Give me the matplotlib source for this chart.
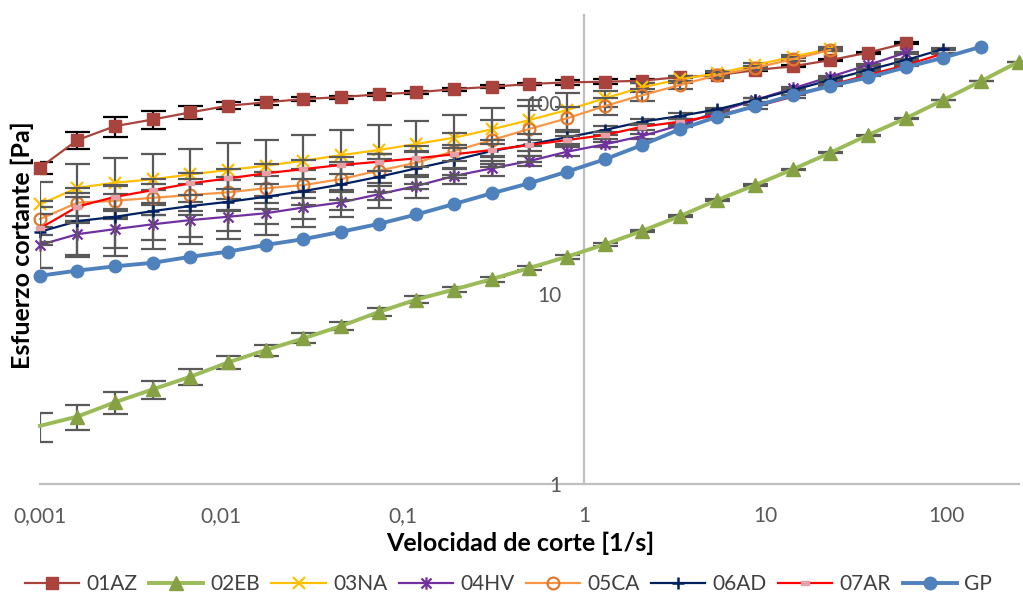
import numpy as np
import matplotlib
matplotlib.use('Agg')
from matplotlib import pyplot as plt
from matplotlib.path import Path
from matplotlib.ticker import FixedLocator, FixedFormatter, NullLocator

plt.rcParams['font.family'] = ['Lato', 'DejaVu Sans']

# shear rate [1/s]
shear_rate = [0.001, 0.00161, 0.0026, 0.00419, 0.00676, 0.0109, 0.0176, 0.0284, 0.0458,
              0.0738, 0.119, 0.192, 0.31, 0.499, 0.805, 1.3, 2.09, 3.38, 5.45, 8.78,
              14.2, 22.8, 36.8, 59.4, 95.8, 155, 250]

# shear stress [Pa] per sample
az01 = [45.8, 64, 75.7, 82, 89.4, 96.8, 100.9, 105, 107.5, 111.1, 113.8, 118.4, 121.8,
        125.9, 128.5, 129.4, 131, 137, 140, 149, 156, 168, 184, 206]
eb02 = [2.02, 2.26, 2.69, 3.14, 3.66, 4.35, 5.05, 5.82, 6.75, 8.0, 9.3, 10.5, 11.9, 13.6,
        15.6, 18.1, 21.3, 25.5, 31.0, 37.1, 44.9, 54.8, 67.9, 83.1, 103.7, 130.4, 164.8]
na03 = [29.4, 35.9, 38.2, 39.8, 42.2, 44.5, 46.9, 49.8, 53.3, 56.7, 61.0, 65.8, 72.8,
        81.4, 91.9, 105.8, 120.9, 133.2, 143.2, 158.3, 175, 193]
hv04 = [18.0, 20.5, 21.8, 23.1, 24.3, 25.3, 26.4, 28.3, 30.1, 33.2, 36.7, 41.4, 45.4,
        49.6, 55.5, 60.7, 67.1, 76.5, 90, 103.7, 119.4, 137.4, 158.3, 183.7]
ca05 = [24.6, 30.0, 30.7, 31.8, 32.9, 34.0, 35.7, 37.1, 39.9, 44.2, 48.6, 56.0, 63.9,
        73.1, 83.1, 96.4, 110, 124.3, 140.3, 153, 170, 190]
ad06 = [21.1, 24.0, 25.3, 27.1, 28.8, 30.3, 32.2, 34.5, 37.4, 41.0, 45.4, 50.2, 56.0,
        60.7, 66.1, 72.2, 79.8, 85.5, 92.7, 103.7, 117, 132, 149, 168, 192]
ar07 = [22.0, 28.6, 32.2, 34.9, 37.9, 40.2, 42.8, 45.0, 47.3, 49.2, 51.3, 53.8, 56.7,
        60.2, 63.9, 67.9, 75.1, 79.8, 86.5, 95.6, 108, 124.3, 140.3, 158, 182]
gp = [12.4, 13.2, 13.9, 14.5, 15.6, 16.6, 18.0, 19.3, 21.1, 23.2, 26.0, 29.5, 33.6, 37.9,
      43.6, 50.6, 60.2, 72.8, 84.8, 96.4, 110, 122.8, 136.4, 154, 173, 197.6]

# error bars (standard deviation, Pa)
az01_err = [3.5, 6.5, 9, 9, 7, 4, 3, 3, 2, 2, 2, 2, 2, 2, 4, 4, 3, 2, 2, 2, 2, 2, 2, 2]
eb02_err = [0.35] * 27
na03_err = [9, 12, 13, 14, 15, 17, 17, 18, 19, 20, 20, 21, 21, 22, 21, 10, 6, 5, 4, 4, 3, 3]
hv04_err = [4.4, 5, 6, 6, 6, 6, 6, 6, 5, 5, 5, 4, 4, 3, 3, 2, 2, 2, 2, 2, 2, 2, 2, 2]
ca05_err = [6, 6, 6, 6, 7, 7, 8, 8, 9, 10, 11, 14, 18, 24, 12, 10, 8, 6, 5, 4, 4, 3]
ad06_err = [7.5, 8, 8, 8, 9, 9, 9, 10, 10, 10, 10, 10, 8, 8, 6, 4, 3, 3, 2, 2, 2, 2, 2, 2, 2]
ar07_err = [4, 5, 5, 5, 5, 5, 5, 5, 5, 5, 5, 4, 4, 4, 3, 3, 3, 3, 2, 2, 2, 2, 2, 2, 2]

x_ticks = [0.001, 0.01, 0.1, 1, 10, 100]
x_tick_labels = ['0,001', '0,01', '0,1', '1', '10', '100']
y_ticks = [1, 10, 100]
y_tick_labels = ['1', '10', '100']

# excel-like marker shapes
star = Path(
    [(0, -1), (0, 1), (-0.8, -0.8), (0.8, 0.8), (-0.8, 0.8), (0.8, -0.8)],
    [Path.MOVETO, Path.LINETO, Path.MOVETO, Path.LINETO, Path.MOVETO, Path.LINETO],
)
dash = Path([(-1, -0.55), (1, -0.55), (1, 0.55), (-1, 0.55), (-1, -0.55)],
            [Path.MOVETO, Path.LINETO, Path.LINETO, Path.LINETO, Path.CLOSEPOLY])

series = [
    # label, values, errors, error colour, style
    ('01AZ', az01, az01_err, '#000000',
     dict(color='#A8443D', lw=1.6, marker='s', ms=8, mfc='#A8443D', mec='#A8443D')),
    ('02EB', eb02, eb02_err, '#595959',
     dict(color='#9BBB59', lw=2.8, marker='^', ms=10, mfc='#86A044', mec='#86A044',
          markevery=slice(1, None))),
    ('03NA', na03, na03_err, '#595959',
     dict(color='#FFC000', lw=1.6, marker='x', ms=8, mew=1.6, mec='#FFC000')),
    ('04HV', hv04, hv04_err, '#595959',
     dict(color='#7030A0', lw=1.6, marker=star, ms=9, mew=1.6, mec='#7030A0')),
    ('05CA', ca05, ca05_err, '#595959',
     dict(color='#F79646', lw=1.6, marker='o', ms=8.5, mew=1.6, mfc='none', mec='#E2792C')),
    ('06AD', ad06, ad06_err, '#595959',
     dict(color='#002060', lw=1.6, marker='+', ms=9, mew=1.8, mec='#002060')),
    ('07AR', ar07, ar07_err, '#595959',
     dict(color='#FF0000', lw=1.6, marker=dash, ms=6, mfc='#E6A1A6', mec='#E6A1A6')),
    ('GP', gp, None, None,
     dict(color='#4F81BD', lw=2.8, marker='o', ms=9, mfc='#4F81BD', mec='#4F81BD')),
]

fig = plt.figure(figsize=(10.23, 6.05), dpi=100)
ax = fig.add_axes([0.0391, 0.2, 0.957, 0.7752])
ax.set_xscale('log')
ax.set_yscale('log')

handles = []
for i, (label, values, errors, ecolor, style) in enumerate(series):
    xs = shear_rate[:len(values)]
    if errors is not None:
        ax.errorbar(xs, values, yerr=errors, fmt='none', ecolor=ecolor, elinewidth=1.6,
                    capsize=9, capthick=1.6, zorder=3 + 2 * i)
    line, = ax.plot(xs, values, label=label, clip_on=False, zorder=4 + 2 * i, **style)
    handles.append(line)

ax.set_xlim(0.001, 251)
ax.set_ylim(1, 290)

ax.xaxis.set_major_locator(FixedLocator(x_ticks))
ax.xaxis.set_major_formatter(FixedFormatter(x_tick_labels))
ax.yaxis.set_major_locator(FixedLocator(y_ticks))
ax.yaxis.set_major_formatter(FixedFormatter(y_tick_labels))
ax.xaxis.set_minor_locator(NullLocator())
ax.yaxis.set_minor_locator(NullLocator())
ax.tick_params(axis='both', length=0, labelsize=15, labelcolor='#595959')
ax.tick_params(axis='x', pad=16)
ax.tick_params(axis='y', pad=16)

for side in ('top', 'right'):
    ax.spines[side].set_visible(False)
ax.spines['left'].set_position(('data', 1))
for side in ('left', 'bottom'):
    ax.spines[side].set_color('#BFBFBF')
    ax.spines[side].set_linewidth(1.6)
    ax.spines[side].set_zorder(1)
ax.yaxis.set_zorder(30)

ax.set_xlabel('Velocidad de corte [1/s]', fontsize=18, fontweight='bold')
ax.set_ylabel('Esfuerzo cortante [Pa]', fontsize=18, fontweight='bold')
ax.xaxis.label.set_va('center')
ax.yaxis.label.set_va('center')
ax.xaxis.set_label_coords(0.491, -0.126)
ax.yaxis.set_label_coords(-0.0184, 0.51)

fig.legend(handles=handles, loc='center', bbox_to_anchor=(0.497, 0.034), ncol=8,
           frameon=False, fontsize=15, handlelength=2.6, columnspacing=0.55,
           handletextpad=0.35, borderpad=0.2, labelcolor='#404040')

fig.savefig('out.png', dpi=100)
